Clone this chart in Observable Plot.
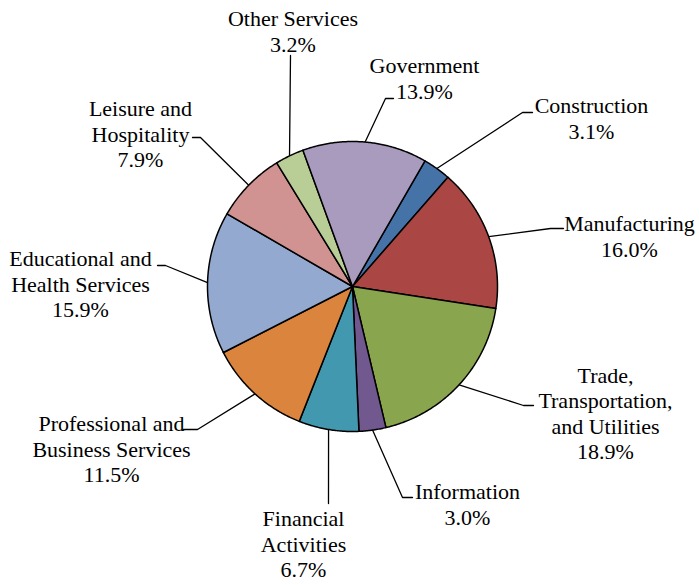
<!DOCTYPE html>
<html>
<head>
<meta charset="utf-8">
<script src="https://cdn.jsdelivr.net/npm/d3@7"></script>
<script src="https://cdn.jsdelivr.net/npm/@observablehq/plot@0.6"></script>
<style>
  html, body { margin: 0; padding: 0; background: #fff; }
  svg { display: block; }
</style>
</head>
<body>
<div id="chart"></div>
<script>
// ---- Data ----
const sectors = [
  "Construction", "Manufacturing", "Trade, Transportation, and Utilities",
  "Information", "Financial Activities", "Professional and Business Services",
  "Educational and Health Services", "Leisure and Hospitality",
  "Other Services", "Government"
];
const sectorLabels = [
  "Construction", "Manufacturing", "Trade,\nTransportation,\nand Utilities",
  "Information", "Financial\nActivities", "Professional and\nBusiness Services",
  "Educational and\nHealth Services", "Leisure and\nHospitality",
  "Other Services", "Government"
];
const shares = [3.1, 16.0, 18.9, 3.0, 6.7, 11.5, 15.9, 7.9, 3.2, 13.9];

// ---- Styles / layout ----
const colors = ["#4572A7", "#AA4643", "#89A54E", "#71588F", "#4198AF",
                "#DB843D", "#93A9CF", "#D19392", "#B9CD96", "#A99BBD"];
const W = 699, H = 585;
const CX = 352, CY = 286, R = 145;      // pie centre and radius (px)
const START = 30;                        // first slice angle, degrees clockwise from 12 o'clock
// label block centres (px)
const labelAt = [[591,117.5],[629,235.5],[605,412.5],[467,503.5],[303,543],
                 [111,448],[80,283],[140,133],[292.5,30.5],[424,77.5]];
// leader elbow and end (px)
const leaderAt = [
  [[522,112],[532,112]], [[550,228],[563,228]], [[523,405],[533,405]],
  [[402,497],[412,497]], [[328,503],[328,503]], [[197,429],[183,429]],
  [[165,265],[157,265]], [[200,137],[192,137]], [[290,55],[290,55]],
  [[385,98],[393,98]]
];

const ux = px => (px - CX) / R;
const uy = py => (CY - py) / R;
const rad = a => a * Math.PI / 180;
const polar = (a, r = 1) => ({x: r * Math.sin(rad(a)), y: r * Math.cos(rad(a))});

const total = d3.sum(shares);
let acc = 0;
const slicePts = [], leaderPts = [], labels = [];
sectors.forEach((name, i) => {
  const a0 = START + acc / total * 360;
  acc += shares[i];
  const a1 = START + acc / total * 360;
  slicePts.push({name, x: 0, y: 0});
  const n = Math.max(2, Math.ceil((a1 - a0) / 0.5));
  for (let k = 0; k <= n; k++) {
    const p = polar(a0 + (a1 - a0) * k / n);
    slicePts.push({name, ...p});
  }
  slicePts.push({name, x: 0, y: 0});

  const mid = polar((a0 + a1) / 2);
  leaderPts.push({name, ...mid});
  leaderPts.push({name, x: ux(leaderAt[i][0][0]), y: uy(leaderAt[i][0][1])});
  leaderPts.push({name, x: ux(leaderAt[i][1][0]), y: uy(leaderAt[i][1][1])});

  labels.push({
    name,
    x: ux(labelAt[i][0]), y: uy(labelAt[i][1]),
    text: sectorLabels[i] + "\n" + shares[i].toFixed(1) + "%"
  });
});

const chart = Plot.plot({
  width: W, height: H,
  margin: 0,
  x: {domain: [ux(0), ux(W)], axis: null},
  y: {domain: [uy(H), uy(0)], axis: null},
  color: {domain: sectors, range: colors},
  style: {background: "#fff"},
  marks: [
    Plot.line(leaderPts, {x: "x", y: "y", z: "name", stroke: "#000", strokeWidth: 1.3, curve: "linear"}),
    Plot.line(slicePts, {x: "x", y: "y", z: "name", fill: "name", stroke: "#000",
      strokeWidth: 1.5, strokeLinejoin: "round", curve: "linear"}),
    Plot.text(labels, {x: "x", y: "y", text: "text", fill: "#000",
      fontFamily: "Liberation Serif, Times New Roman, serif", fontSize: 22,
      lineHeight: 1.16, textAnchor: "middle"})
  ]
});
document.getElementById("chart").appendChild(chart);
</script>
</body>
</html>
